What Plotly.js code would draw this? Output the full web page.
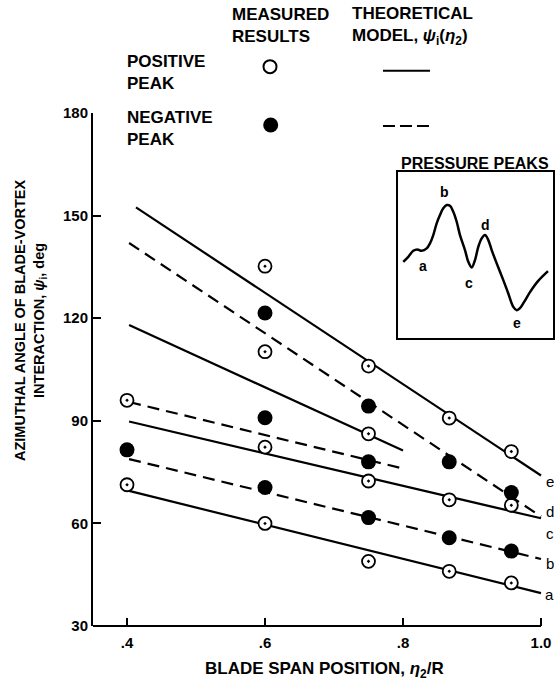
<!DOCTYPE html>
<html>
<head>
<meta charset="utf-8">
<script src="https://cdn.plot.ly/plotly-3.0.1.min.js"></script>
<style>html,body{margin:0;padding:0;background:#fff;}</style>
</head>
<body>
<div id="chart" style="width:557px;height:683px;"></div>
<script>
// ---- Axis ticks ----
const xTickVals = [0.4, 0.6, 0.8, 1.0];
const xTickText = ['.4', '.6', '.8', '1.0'];
const yTickVals = [30, 60, 90, 120, 150, 180];
const yTickText = ['30', '60', '90', '120', '150', '180'];

// ---- Theoretical model lines (end points) ----
const lineAx = [0.403, 1.0], lineAy = [69.5, 39.6];   // a, solid
const lineBx = [0.403, 1.0], lineBy = [78.8, 49.6];   // b, dashed
const lineCx = [0.403, 1.0], lineCy = [89.8, 61.5];   // c, solid
const lineDx = [0.403, 1.0], lineDy = [142.0, 62.0];  // d, dashed
const lineEx = [0.413, 1.0], lineEy = [152.4, 74.0];  // e, solid
const lineSx = [0.403, 0.80], lineSy = [118.0, 81.3]; // short solid
const lineTx = [0.403, 0.803], lineTy = [95.5, 75.9]; // short dashed

// ---- Measured results ----
const posX = [0.4, 0.4, 0.6, 0.6, 0.6, 0.6, 0.75, 0.75, 0.75, 0.75, 0.867, 0.867, 0.867, 0.957, 0.957, 0.957];
const posY = [96, 71.3, 135.2, 110.2, 82.3, 60, 106, 86.2, 72.4, 48.9, 90.8, 66.9, 46, 81, 65.3, 42.6];
const negX = [0.4, 0.6, 0.6, 0.6, 0.75, 0.75, 0.75, 0.867, 0.867, 0.957, 0.957];
const negY = [81.5, 121.5, 90.9, 70.5, 94.3, 78.0, 61.7, 78, 55.8, 69, 51.9];

// ---- Line end labels ----
const endLabels = ['a', 'b', 'c', 'd', 'e'];
const endLabelY = [39.1, 48.3, 57.1, 63.4, 72.2];

// ---- Inset: pressure peaks trace ----
const peakT = [5.3, 10.3, 15.3, 19.3, 23.7, 28.7, 32, 35.3, 38.7, 42, 45.3, 48.7, 52, 55.3, 58.7, 62, 67, 70.3, 73.7, 77, 80.3, 83.7, 87, 90.3, 93.7, 98.7, 105.3, 110.3, 115.3, 118.7, 122, 126, 132, 140, 150];
const peakP = [76.3, 81.3, 87.3, 88.7, 87.3, 89.7, 94.7, 103, 114.7, 123, 129.7, 133, 132.3, 126.3, 116.3, 103, 88, 76.3, 70.7, 78, 91.3, 99.7, 103, 98, 88, 74.7, 58, 44.7, 31.3, 28, 30, 36, 46, 57, 67];
const peakLabels = ['a', 'b', 'c', 'd', 'e'];
const peakLabelT = [25.3, 47, 71.3, 88, 118.7];
const peakLabelP = [72, 146.3, 55.3, 113, 14.7];

const FONT = 'Liberation Sans, Arial, Helvetica, sans-serif';
const xMin = 0.3507, xMax = 1.0174;

const solid = {color: '#000', width: 2.2};
const dashed = {color: '#000', width: 2.2, dash: '12px,7px'};

const traces = [
  {x: lineAx, y: lineAy, mode: 'lines', line: solid},
  {x: lineBx, y: lineBy, mode: 'lines', line: dashed},
  {x: lineCx, y: lineCy, mode: 'lines', line: solid},
  {x: lineDx, y: lineDy, mode: 'lines', line: dashed},
  {x: lineEx, y: lineEy, mode: 'lines', line: solid},
  {x: lineSx, y: lineSy, mode: 'lines', line: solid},
  {x: lineTx, y: lineTy, mode: 'lines', line: dashed},
  {x: posX, y: posY, mode: 'markers', cliponaxis: false,
   marker: {symbol: 'circle-dot', size: 13, color: '#fff', line: {color: '#000', width: 1.8}}},
  {x: negX, y: negY, mode: 'markers', cliponaxis: false,
   marker: {symbol: 'circle', size: 15, color: '#000', line: {width: 0}}},
  {x: peakT, y: peakP, xaxis: 'x2', yaxis: 'y2', mode: 'lines', line: {color: '#000', width: 2.5, shape: 'spline'}}
];

const annotations = [];
function ann(text, x, y, opts) {
  annotations.push(Object.assign({text: text, x: x, y: y, xref: 'paper', yref: 'paper', showarrow: false,
    font: {family: FONT, size: 17, color: '#000', weight: 'bold'}, align: 'left', xanchor: 'left', yanchor: 'middle'}, opts || {}));
}
ann('MEASURED<br>RESULTS', 0.2978, 1.1696);
ann('THEORETICAL<br>MODEL, <i>ψ</i><sub>i</sub>(<i>η</i><sub>2</sub>)', 0.5587, 1.1696);
ann('POSITIVE<br>PEAK', 0.0696, 1.0799);
ann('NEGATIVE<br>PEAK', 0.0696, 0.9698);
ann('PRESSURE PEAKS', 0.8304, 0.9025, {xanchor: 'center', font: {family: FONT, size: 16, color: '#000', weight: 'bold'}});
ann('BLADE SPAN POSITION, <i>η</i><sub>2</sub>/R', 0.5022, -0.0858, {xanchor: 'center'});
ann('AZIMUTHAL ANGLE OF BLADE-VORTEX<br>INTERACTION, <i>ψ</i><sub>i</sub>, deg', -0.1348, 0.5965,
    {xanchor: 'center', align: 'center', textangle: -90, font: {family: FONT, size: 14.5, color: '#000', weight: 'bold'}});

endLabels.forEach((t, i) => {
  annotations.push({text: t, x: 1.0, y: endLabelY[i], xref: 'x', yref: 'y', xshift: 9, showarrow: false,
    xanchor: 'center', yanchor: 'middle', font: {family: FONT, size: 15, color: '#000'}});
});
peakLabels.forEach((t, i) => {
  annotations.push({text: t, x: peakLabelT[i], y: peakLabelP[i], xref: 'x2', yref: 'y2', showarrow: false,
    xanchor: 'center', yanchor: 'middle', font: {family: FONT, size: 14, color: '#000', weight: 'bold'}});
});

const shapes = [
  // x axis line (ends at 1.0)
  {type: 'line', xref: 'x', yref: 'paper', x0: xMin, x1: 1.0, y0: 0, y1: 0, line: {color: '#000', width: 2}},
  // legend symbols
  {type: 'circle', xref: 'paper', yref: 'paper', xsizemode: 'pixel', ysizemode: 'pixel',
   xanchor: 0.3848, yanchor: 1.0903, x0: -6.5, x1: 6.5, y0: -6.5, y1: 6.5, fillcolor: '#fff', line: {color: '#000', width: 2}},
  {type: 'circle', xref: 'paper', yref: 'paper', xsizemode: 'pixel', ysizemode: 'pixel',
   xanchor: 0.3863, yanchor: 0.9766, x0: -7.5, x1: 7.5, y0: -7.5, y1: 7.5, fillcolor: '#000', line: {color: '#000', width: 0}},
  {type: 'line', xref: 'paper', yref: 'paper', x0: 0.6304, x1: 0.7326, y0: 1.0824, y1: 1.0824, line: {color: '#000', width: 2}},
  {type: 'line', xref: 'paper', yref: 'paper', x0: 0.6304, x1: 0.7326, y0: 0.9747, y1: 0.9747, line: {color: '#000', width: 2, dash: '12px,5px'}}
];

const layout = {
  width: 557, height: 683,
  margin: {l: 93, r: 4, t: 113, b: 57},
  paper_bgcolor: '#fff', plot_bgcolor: 'rgba(0,0,0,0)',
  showlegend: false,
  font: {family: FONT, color: '#000'},
  xaxis: {
    range: [xMin, xMax], tickvals: xTickVals, ticktext: xTickText,
    ticks: 'inside', ticklen: 8, tickwidth: 2, tickcolor: '#000',
    showline: false, showgrid: false, zeroline: false,
    tickfont: {family: FONT, size: 15, color: '#000', weight: 'bold'}, ticklabelstandoff: 6
  },
  yaxis: {
    range: [30, 180], tickvals: yTickVals, ticktext: yTickText,
    ticks: 'inside', ticklen: 8, tickwidth: 2, tickcolor: '#000',
    showline: true, linewidth: 2, linecolor: '#000', showgrid: false, zeroline: false,
    tickfont: {family: FONT, size: 15, color: '#000', weight: 'bold'}
  },
  xaxis2: {domain: [0.663, 1.0], range: [0, 155], anchor: 'y2', showline: true, mirror: true, linewidth: 2, linecolor: '#000',
    showticklabels: false, ticks: '', showgrid: false, zeroline: false},
  yaxis2: {domain: [0.561, 0.885], range: [0, 166], anchor: 'x2', showline: true, mirror: true, linewidth: 2, linecolor: '#000',
    showticklabels: false, ticks: '', showgrid: false, zeroline: false},
  annotations: annotations,
  shapes: shapes
};

Plotly.newPlot('chart', traces, layout, {displayModeBar: false, staticPlot: true});
</script>
</body>
</html>
